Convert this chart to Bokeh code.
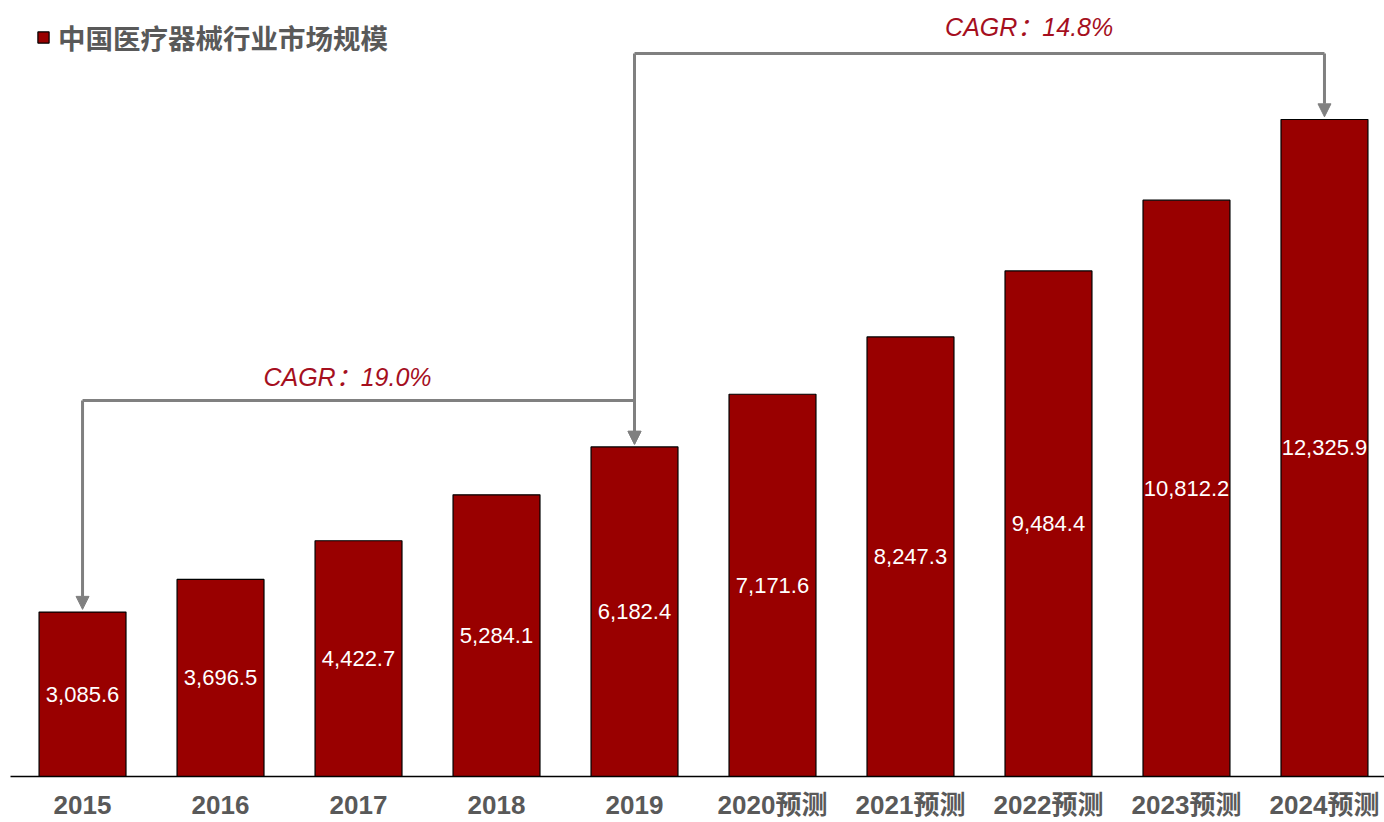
from bokeh.plotting import figure
from bokeh.models import (Range1d, FixedTicker, Arrow, NormalHead, Label, LabelSet,
                          Legend, LegendItem, ColumnDataSource)
from bokeh.core.properties import value
from bokeh.embed import file_html
from bokeh.resources import INLINE

# ---- data ----
years = ["2015", "2016", "2017", "2018", "2019",
         "2020预测", "2021预测", "2022预测", "2023预测", "2024预测"]
market_size = [3085.6, 3696.5, 4422.7, 5284.1, 6182.4,
               7171.6, 8247.3, 9484.4, 10812.2, 12325.9]
series_name = "中国医疗器械行业市场规模"
cagr_periods = [(0, 4), (4, 9)]   # index pairs for CAGR brackets

# ---- styles ----
BAR = "#990000"
GRAY = "#595959"
ARROW = "#808080"
RED_TXT = "#A50F1E"
FONT = "Liberation Sans, Noto Sans CJK SC"

xs = list(range(len(years)))
src = ColumnDataSource(dict(
    x=xs, top=market_size, mid=[v / 2 for v in market_size],
    txt=[f"{v:,.1f}" for v in market_size]))

p = figure(width=1384, height=822, x_range=Range1d(-0.522, 9.435),
           y_range=Range1d(0, 14408), output_backend="svg", toolbar_location=None,
           y_axis_location=None, min_border_left=10, min_border_right=0,
           min_border_top=8, min_border_bottom=46)
p.xgrid.visible = False
p.ygrid.visible = False
p.outline_line_color = None
p.background_fill_color = "white"

bars = p.vbar(x="x", top="top", bottom=0, width=0.63, source=src,
              fill_color=BAR, line_color="black", line_width=1.2)

p.add_layout(LabelSet(x="x", y="mid", text="txt", source=src, text_align="center",
                      text_baseline="middle", text_color="white",
                      text_font_size=value("22px"), text_font=value("Liberation Sans"),
                      text_font_style=value("normal")))

ax = p.xaxis[0]
ax.ticker = FixedTicker(ticks=xs)
ax.major_label_overrides = {i: y for i, y in enumerate(years)}
ax.major_tick_line_color = None
ax.minor_tick_line_color = None
ax.major_tick_out = 0
ax.major_tick_in = 0
ax.major_label_standoff = 13
ax.major_label_text_font = FONT
ax.major_label_text_font_size = "26px"
ax.major_label_text_font_style = "bold"
ax.major_label_text_color = GRAY
ax.axis_line_color = "black"
ax.axis_line_width = 1.5

# ---- CAGR brackets ----
bracket_y = [7054, 13565]
label_pos = [(1.92, 7486), (6.86, 14052)]
tip_offset = [50, 50]
for k, (a, b) in enumerate(cagr_periods):
    yb = bracket_y[k]
    p.segment(x0=[a], y0=[yb], x1=[b], y1=[yb], line_color=ARROW, line_width=3)
    for idx in (a, b):
        p.add_layout(Arrow(end=NormalHead(size=13, fill_color=ARROW, line_color=ARROW),
                           x_start=idx, y_start=yb, x_end=idx,
                           y_end=market_size[idx] + tip_offset[k],
                           line_color=ARROW, line_width=3))
    n = b - a
    cagr = (market_size[b] / market_size[a]) ** (1 / n) - 1
    lx, ly = label_pos[k]
    p.add_layout(Label(x=lx, y=ly, text=f"CAGR：{cagr*100:.1f}%", text_align="center",
                       text_baseline="middle", text_color=RED_TXT,
                       text_font=FONT, text_font_size="25px",
                       text_font_style="italic"))

legend = Legend(items=[LegendItem(label=series_name, renderers=[bars])],
                location=(26, 719), padding=0, margin=0, glyph_width=14,
                glyph_height=14, label_standoff=8, label_text_font="Noto Sans CJK SC",
                label_text_font_size="27.5px", label_text_font_style="bold",
                label_text_color=GRAY, border_line_color=None,
                background_fill_alpha=0)
p.add_layout(legend, "center")

open("out.html", "w").write(file_html(p, INLINE))
